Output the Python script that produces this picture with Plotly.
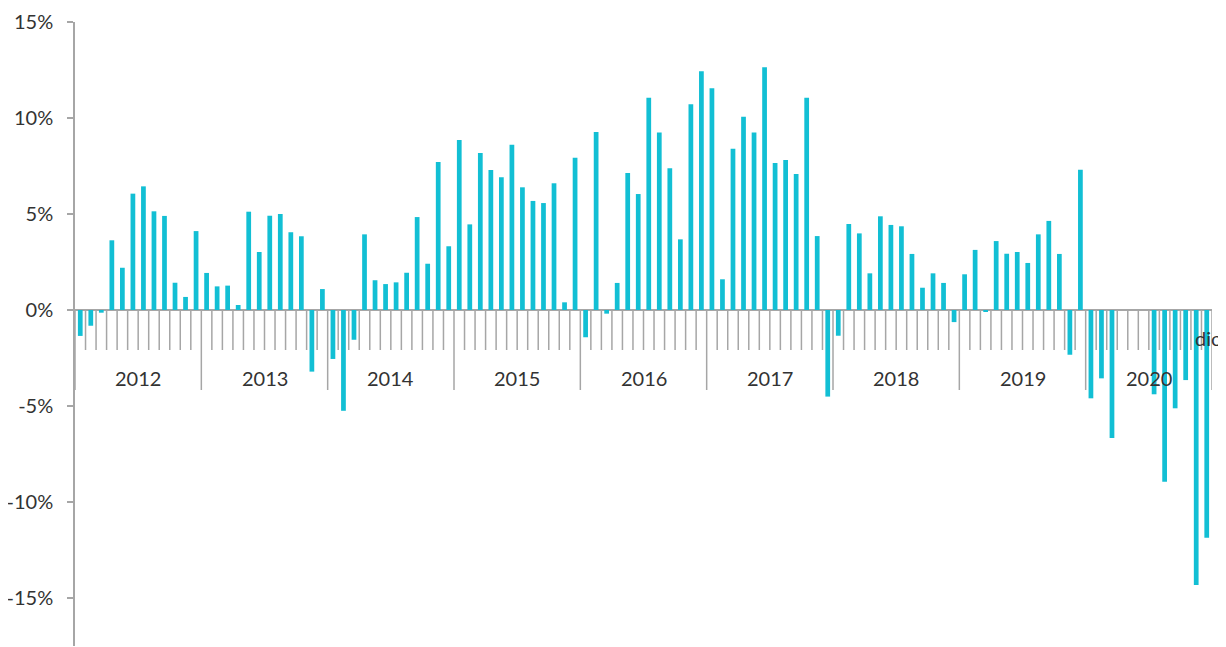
import plotly.graph_objects as go

# Monthly year-on-year change (%), Jan..Dec
years = [2012, 2013, 2014, 2015, 2016, 2017, 2018, 2019, 2020]
month_labels = ["ene", "feb", "mar", "abr", "may", "jun",
                "jul", "ago", "sep", "oct", "nov", "dic"]

v2012 = [-1.35, -0.82, -0.14, 3.63, 2.20, 6.06, 6.44, 5.14, 4.90, 1.42, 0.68, 4.11]
v2013 = [1.93, 1.23, 1.27, 0.26, 5.12, 3.02, 4.91, 5.00, 4.05, 3.84, -3.21, 1.09]
v2014 = [-2.55, -5.25, -1.55, 3.94, 1.55, 1.35, 1.44, 1.94, 4.84, 2.41, 7.71, 3.32]
v2015 = [8.85, 4.46, 8.18, 7.29, 6.91, 8.61, 6.39, 5.68, 5.57, 6.60, 0.40, 7.93]
v2016 = [-1.42, 9.27, -0.19, 1.41, 7.14, 6.04, 11.06, 9.25, 7.38, 3.68, 10.71, 12.43]
v2017 = [11.55, 1.60, 8.40, 10.07, 9.25, 12.64, 7.66, 7.81, 7.08, 11.06, 3.85, -4.51]
v2018 = [-1.34, 4.48, 3.99, 1.91, 4.88, 4.43, 4.36, 2.92, 1.16, 1.91, 1.41, -0.63]
v2019 = [1.86, 3.13, -0.10, 3.59, 2.93, 3.02, 2.45, 3.94, 4.64, 2.92, -2.33, 7.31]
v2020 = [-4.60, -3.56, -6.67, None, None, None, -4.39, -8.94, -5.12, -3.65, -14.32, -11.86]

series = [v2012, v2013, v2014, v2015, v2016, v2017, v2018, v2019, v2020]
values = [v for yr in series for v in yr]
n = len(values)
xs = list(range(1, n + 1))

y_ticks = [15, 10, 5, 0, -5, -10, -15]
y_ticktext = ["15%", "10%", "5%", "0%", "-5%", "-10%", "-15%"]

BAR = "#12BFD4"
GRAY = "#A6A6A6"
TXT = "#333333"
FONT = "Lato"

fig = go.Figure()
fig.add_trace(go.Bar(x=xs, y=values, marker=dict(color=BAR, line=dict(width=0)),
                     hoverinfo="y"))

shapes = []
for b in range(0, n + 1):
    length = 80 if b % 12 == 0 else 40
    shapes.append(dict(type="line", xref="x", yref="y", ysizemode="pixel",
                       yanchor=0, x0=b + 0.5, x1=b + 0.5, y0=0, y1=-length,
                       line=dict(color=GRAY, width=1.5), layer="below"))

annotations = []
for i, yr in enumerate(years):
    annotations.append(dict(x=12 * i + 6.5, y=0, xref="x", yref="y", yshift=-68,
                            text=str(yr), showarrow=False,
                            font=dict(family=FONT, size=20, color=TXT)))
annotations.append(dict(x=n, y=0, xref="x", yref="y", yshift=-28, xshift=1,
                        text=month_labels[-1], showarrow=False,
                        font=dict(family=FONT, size=20, color=TXT)))

# the page body adds an 8px offset, so the figure is sized to fit the window
fig.update_layout(
    width=1218, height=639,
    margin=dict(l=67, r=14, t=14, b=1, autoexpand=False),
    paper_bgcolor="white", plot_bgcolor="white",
    bargap=0.55, showlegend=False,
    shapes=shapes, annotations=annotations,
    font=dict(family=FONT, size=20, color=TXT),
    xaxis=dict(visible=False, range=[0.5, n + 0.5], automargin=False),
    yaxis=dict(range=[-17.5, 15], tickvals=y_ticks, ticktext=y_ticktext,
               ticks="outside", ticklen=6, tickcolor=GRAY, tickwidth=1.5,
               ticklabelstandoff=10, automargin=False,
               showline=True, linecolor=GRAY, linewidth=1.5,
               showgrid=False, zeroline=True, zerolinecolor=GRAY, zerolinewidth=1.5,
               tickfont=dict(family=FONT, size=20, color=TXT)),
)

fig.write_html("out.html")
